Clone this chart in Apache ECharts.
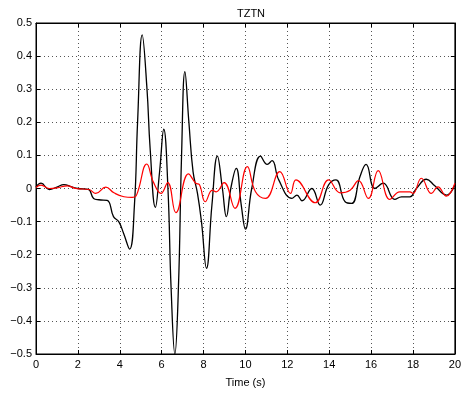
<!DOCTYPE html>
<html>
<head>
<meta charset="utf-8">
<script src="https://cdn.jsdelivr.net/npm/echarts@6/dist/echarts.min.js"></script>
<style>html,body{margin:0;padding:0;background:#fff}#c{width:464px;height:393px}</style>
</head>
<body>
<div id="c"></div>
<script>
var title = 'TZTN';
var xName = 'Time (s)';
var blackT = [0,0.24,0.63,1.0,1.33,1.7,2.0,2.5,2.75,3.0,3.4,3.7,3.95,4.18,4.47,4.7,4.85,5.07,5.3,5.45,5.7,5.9,6.1,6.3,6.45,6.63,6.8,6.95,7.11,7.3,7.5,7.71,7.9,8.14,8.4,8.66,8.9,9.09,9.3,9.56,9.8,10.0,10.3,10.72,11.04,11.27,11.59,12.22,12.46,12.7,13.17,13.57,13.97,14.32,14.76,15.07,15.47,15.76,16.18,16.58,17.13,17.45,17.85,18.16,18.64,19.04,19.6,20];
var blackV = [0.005,0.016,-0.003,0.004,0.012,0.005,0.0,-0.003,-0.03,-0.034,-0.036,-0.085,-0.1,-0.135,-0.183,-0.05,0.2,0.464,0.30,0.12,-0.057,0.05,0.179,0.0,-0.3,-0.5,-0.3,0.1,0.353,0.2,0.05,-0.015,-0.1,-0.241,-0.05,0.098,0.0,-0.085,0.0,0.061,-0.05,-0.123,0.0,0.098,0.073,0.084,0.026,-0.03,-0.02,-0.037,0.0,-0.05,0.011,0.026,-0.04,-0.045,0.036,0.073,0.0,0.016,-0.033,-0.025,-0.025,0.0,0.028,0.008,-0.02,0.011];
var redT = [0,0.24,0.63,1.0,1.5,1.9,2.53,2.85,3.33,3.72,4.2,4.59,4.8,5.29,5.6,5.97,6.29,6.68,7.28,7.63,7.8,8.08,8.42,8.6,8.98,9.5,10.09,10.48,10.96,11.64,12.15,12.41,13.33,13.97,14.52,15.0,15.4,15.87,16.34,16.9,17.37,17.85,18.0,18.4,18.88,19.19,19.59,20];
var redV = [0.003,0.01,0.0,0.002,0.008,0.0,-0.003,-0.015,0.004,-0.013,-0.025,-0.027,-0.02,0.074,0.02,-0.015,0.018,-0.073,0.044,0.016,0.012,-0.04,-0.005,-0.01,0.018,-0.06,0.066,-0.01,-0.03,0.051,-0.015,0.026,-0.043,0.026,-0.013,-0.005,0.024,-0.03,0.054,-0.033,-0.01,-0.01,-0.015,0.031,-0.015,0.005,-0.023,0.016];

function pairs(t, v){ return t.map(function(x,i){ return [x, v[i]]; }); }
var FONT = 'Liberation Sans';
var chart = echarts.init(document.getElementById('c'), null, {renderer:'canvas'});
var tickStyle = {show:true, inside:true, length:4, lineStyle:{color:'#000'}};
chart.setOption({
  animation:false,
  backgroundColor:'#fff',
  title:{text:title, left:246, textAlign:'center', top:3, textStyle:{fontFamily:FONT, fontSize:11, fontWeight:'normal', color:'#000'}},
  grid:{left:36, right:7, top:23, bottom:39, show:true, borderColor:'#000', borderWidth:1},
  xAxis:[{
    type:'value', min:0, max:20, interval:2,
    name:xName, nameLocation:'middle', nameGap:23,
    nameTextStyle:{fontFamily:FONT, fontSize:11, color:'#000'},
    axisLine:{show:true, onZero:false, lineStyle:{color:'#000'}},
    axisTick:tickStyle,
    axisLabel:{fontFamily:FONT, fontSize:11, color:'#000', margin:5},
    splitLine:{show:true, lineStyle:{color:'#555', type:[1,3], width:1}}
  },{
    type:'value', min:0, max:20, interval:2, position:'top',
    axisLine:{show:true, onZero:false, lineStyle:{color:'#000'}},
    axisTick:tickStyle, axisLabel:{show:false}, splitLine:{show:false}
  }],
  yAxis:[{
    type:'value', min:-0.5, max:0.5, interval:0.1,
    axisLine:{show:true, onZero:false, lineStyle:{color:'#000'}},
    axisTick:tickStyle,
    axisLabel:{fontFamily:FONT, fontSize:11, color:'#000', margin:4,
      formatter:function(v){ var s = (Math.round(v*10)/10).toString(); return s.replace('-', '\u2212'); }},
    splitLine:{show:true, lineStyle:{color:'#555', type:[1,3], width:1}}
  },{
    type:'value', min:-0.5, max:0.5, interval:0.1, position:'right',
    axisLine:{show:true, onZero:false, lineStyle:{color:'#000'}},
    axisTick:tickStyle, axisLabel:{show:false}, splitLine:{show:false}
  }],
  series:[
    {type:'line', data:pairs(blackT, blackV), smooth:0.45, showSymbol:false, clip:true,
     lineStyle:{color:'#000', width:1.3}, z:3},
    {type:'line', data:pairs(redT, redV), smooth:0.45, showSymbol:false, clip:true,
     lineStyle:{color:'#ff0000', width:1.2}, z:4}
  ]
});
</script>
</body>
</html>
